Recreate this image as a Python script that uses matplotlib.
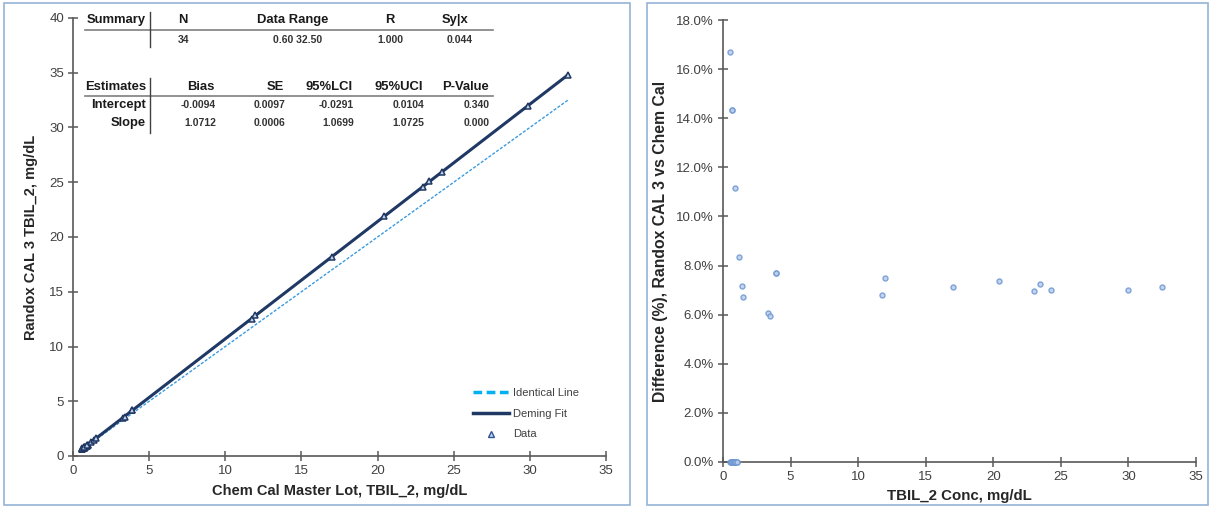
import matplotlib
matplotlib.use("Agg")
import matplotlib.pyplot as plt
from matplotlib.lines import Line2D
from matplotlib.patches import Rectangle

plt.rcParams['font.family'] = ['Liberation Sans', 'DejaVu Sans']

# ---------------- data ----------------
# Left: Chem Cal Master Lot (x) vs Randox CAL 3 (y), TBIL_2 mg/dL
chem_cal = [0.6, 0.6, 0.6, 0.7, 0.7, 0.7, 0.7, 0.8, 0.8, 0.8, 0.9, 0.9, 1.0, 1.0,
            0.6, 0.7, 0.7, 0.9, 1.2, 1.4, 1.5, 3.3, 3.4, 3.9, 3.9,
            11.75, 11.95, 17.0, 20.4, 23.0, 23.4, 24.2, 29.9, 32.5]
randox = [0.6, 0.6, 0.6, 0.7, 0.7, 0.7, 0.7, 0.8, 0.8, 0.8, 0.9, 0.9, 1.0, 1.0,
          0.7, 0.8, 0.8, 1.0, 1.3, 1.5, 1.6, 3.5, 3.6, 4.2, 4.2,
          12.55, 12.85, 18.2, 21.9, 24.6, 25.1, 25.9, 32.0, 34.8]
deming_intercept = -0.0094
deming_slope = 1.0712

# Right: % difference vs concentration
conc = [0.55, 0.6, 0.6, 0.7, 0.7, 0.7, 0.7, 0.8, 0.8, 0.8, 0.9, 0.9, 1.0, 1.05,
        0.55, 0.7, 0.7, 0.9, 1.2, 1.4, 1.5, 3.3, 3.45, 3.9, 3.9,
        11.8, 12.0, 17.0, 20.4, 23.0, 23.45, 24.25, 30.0, 32.5]
pct_diff = [0.0, 0.0, 0.0, 0.0, 0.0, 0.0, 0.0, 0.0, 0.0, 0.0, 0.0, 0.0, 0.0, 0.0,
            16.7, 14.35, 14.35, 11.14, 8.35, 7.17, 6.72, 6.08, 5.93, 7.71, 7.71,
            6.81, 7.51, 7.11, 7.36, 6.96, 7.26, 7.02, 7.02, 7.11]

# table content
summary_cols = ["N", "Data Range", "R", "Sy|x"]
summary_vals = ["34", "0.60 32.50", "1.000", "0.044"]
est_cols = ["Bias", "SE", "95%LCI", "95%UCI", "P-Value"]
est_rows = ["Intercept", "Slope"]
est_vals = [["-0.0094", "0.0097", "-0.0291", "0.0104", "0.340"],
            ["1.0712", "0.0006", "1.0699", "1.0725", "0.000"]]

# ---------------- figure ----------------
W, H = 1211, 508
fig = plt.figure(figsize=(W / 100, H / 100), dpi=100)


def fx(px):
    return px / W


def fy(py):
    return 1 - py / H


navy = '#1F3864'
axis_col = '#595959'
tick_col = '#404040'
border_col = '#95B3D7'

# panel borders
fig.patches.append(Rectangle((fx(4), fy(505)), fx(630) - fx(4), fy(3) - fy(505),
                             transform=fig.transFigure, fill=False, ec=border_col, lw=1.2))
fig.patches.append(Rectangle((fx(647), fy(505)), fx(1208) - fx(647), fy(3) - fy(505),
                             transform=fig.transFigure, fill=False, ec=border_col, lw=1.2))

# ---------- left axes ----------
axL = fig.add_axes([fx(73), fy(456), fx(606) - fx(73), fy(18) - fy(456)])
axL.set_xlim(0, 35)
axL.set_ylim(0, 40)
axL.set_xticks(range(0, 36, 5))
axL.set_yticks(range(0, 41, 5))
for s in ['top', 'right']:
    axL.spines[s].set_visible(False)
for s in ['left', 'bottom']:
    axL.spines[s].set_color(axis_col)
    axL.spines[s].set_linewidth(1.2)
axL.tick_params(direction='inout', length=7, width=1.1, color=axis_col,
                labelsize=9.5, labelcolor=tick_col, pad=3)

xmin, xmax = min(chem_cal), max(chem_cal)
axL.plot([xmin, xmax], [xmin, xmax], color='#3A9BE0', lw=1.0, ls=(0, (2.2, 1.2)), zorder=2)
axL.plot([xmin, xmax], [deming_intercept + deming_slope * xmin, deming_intercept + deming_slope * xmax],
         color=navy, lw=2.2, zorder=3)
axL.plot(chem_cal, randox, ls='none', marker='^', ms=4.8, mfc='#C5D5EA', mec=navy, mew=1.1, zorder=4)

axL.set_xlabel("Chem Cal Master Lot, TBIL_2, mg/dL", fontsize=10.5, fontweight='bold',
               color='#262626', labelpad=5)
axL.set_ylabel("Randox CAL 3 TBIL_2, mg/dL", fontsize=10.5, fontweight='bold',
               color='#262626', labelpad=8)

# legend (custom handles)
leg_handles = [Line2D([0], [0], color='#00B0F0', lw=2.5, ls=(0, (2.5, 1.3))),
               Line2D([0], [0], color=navy, lw=2.5),
               Line2D([0], [0], ls='none', marker='^', ms=4, mfc='#C5D5EA', mec='#2E5597', mew=1.0)]
leg = axL.legend(leg_handles, ["Identical Line", "Deming Fit", "Data"], loc='lower right',
                 bbox_to_anchor=(fx(585), fy(445)), bbox_transform=fig.transFigure,
                 frameon=False, fontsize=8, handlelength=3.2, handletextpad=0.4,
                 labelspacing=0.95, borderpad=0)
for t in leg.get_texts():
    t.set_color('#404040')

# table: summary
tf = 9.4
vf = 7.5
fig.text(fx(146), fy(20), "Summary", ha='right', va='center', fontsize=tf, fontweight='bold', color='#1a1a1a')
sum_hx = [(178, 'left'), (293, 'center'), (390, 'center'), (455, 'center')]
for (px, ha), lab in zip(sum_hx, summary_cols):
    fig.text(fx(px), fy(20), lab, ha=ha, va='center', fontsize=tf, fontweight='bold', color='#1a1a1a')
sum_vx = [(178, 'left'), (273, 'left'), (377, 'left'), (447, 'left')]
for (px, ha), lab in zip(sum_vx, summary_vals):
    fig.text(fx(px), fy(40), lab, ha=ha, va='center', fontsize=vf, fontweight='bold', color='#333333')
fig.add_artist(Line2D([fx(85), fx(493)], [fy(30), fy(30)], color='#7f7f7f', lw=1.2, transform=fig.transFigure))
fig.add_artist(Line2D([fx(150), fx(150)], [fy(12), fy(47)], color='#404040', lw=1.0, transform=fig.transFigure))

# table: estimates
fig.text(fx(146), fy(87), "Estimates", ha='right', va='center', fontsize=tf, fontweight='bold', color='#1a1a1a')
est_x = [215, 284, 353, 423, 489]
for px, lab in zip(est_x, est_cols):
    fig.text(fx(px), fy(87), lab, ha='right', va='center', fontsize=tf, fontweight='bold', color='#1a1a1a')
for r, (rlab, rvals) in enumerate(zip(est_rows, est_vals)):
    py = 105 + 18 * r
    fig.text(fx(146), fy(py), rlab, ha='right', va='center', fontsize=tf, fontweight='bold', color='#1a1a1a')
    for px, v in zip(est_x, rvals):
        fig.text(fx(px + 1), fy(py), v, ha='right', va='center', fontsize=vf, fontweight='bold', color='#333333')
fig.add_artist(Line2D([fx(85), fx(493)], [fy(96), fy(96)], color='#7f7f7f', lw=1.2, transform=fig.transFigure))
fig.add_artist(Line2D([fx(150), fx(150)], [fy(78), fy(133)], color='#404040', lw=1.0, transform=fig.transFigure))

# ---------- right axes ----------
axR = fig.add_axes([fx(723), fy(462), fx(1196) - fx(723), fy(20) - fy(462)])
axR.set_xlim(0, 35)
axR.set_ylim(0, 18)
axR.set_xticks(range(0, 36, 5))
axR.set_yticks(range(0, 19, 2))
axR.set_yticklabels([f"{v:.1f}%" for v in range(0, 19, 2)])
for s in ['top', 'right']:
    axR.spines[s].set_visible(False)
for s in ['left', 'bottom']:
    axR.spines[s].set_color(axis_col)
    axR.spines[s].set_linewidth(1.2)
axR.tick_params(direction='inout', length=7, width=1.1, color=axis_col,
                labelsize=9.5, labelcolor=tick_col, pad=3)
axR.plot(conc, pct_diff, ls='none', marker='o', ms=3.6, mfc='#B8CDEB', mec='#6F97D2',
         mew=1.0, alpha=0.85, clip_on=False, zorder=3)
axR.set_xlabel("TBIL_2 Conc, mg/dL", fontsize=10.8, fontweight='bold', color='#262626', labelpad=4)
axR.set_ylabel("Difference (%), Randox CAL 3 vs Chem Cal", fontsize=11.3, fontweight='bold',
               color='#262626', labelpad=6)

fig.savefig("out.png", dpi=100)
